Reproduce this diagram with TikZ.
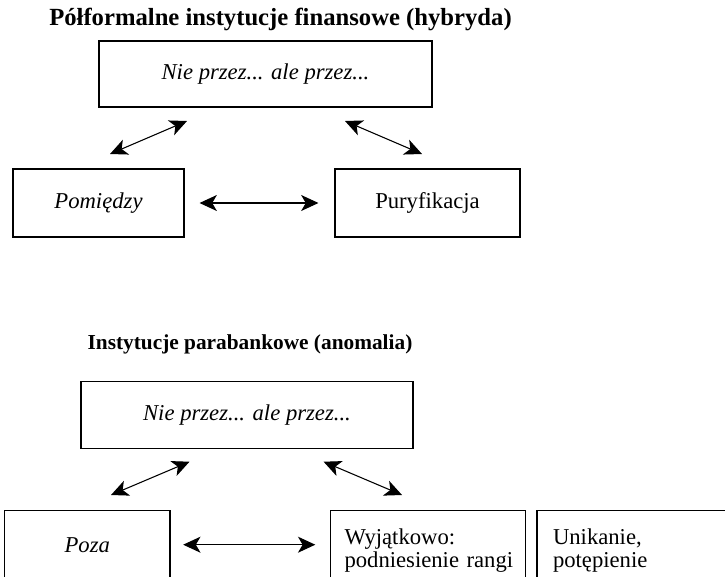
\documentclass[tikz,border=0pt]{standalone}
\usepackage{fontspec}
\setmainfont{Liberation Serif}
\usetikzlibrary{arrows.meta}

\tikzset{
  ramka/.style={draw, line width=0.8pt, inner sep=0pt, font=\fontsize{17}{17.5}\selectfont},
  ramkatxt/.style={ramka, align=left, minimum height=60pt},
  tytul/.style={inner sep=0.75pt, font=\bfseries},
  dwustronna/.style={{Stealth[length=13pt,width=12pt,inset=3.5pt]}-{Stealth[length=13pt,width=12pt,inset=3.5pt]}, line width=0.8pt},
}

\begin{document}
\begin{tikzpicture}[x=0.75pt,y=0.75pt,yscale=-1,xscale=1]

\useasboundingbox (0,0) rectangle (725,576);
\clip (0,0) rectangle (725,576);

% hybryda
\node (tytulA) at (280.5,19) [tytul, font=\fontsize{18.5}{22}\selectfont\bfseries] {Półformalne instytucje finansowe (hybryda)};
\node (nieA) at (265.5,74) [ramka, minimum width=249.75pt, minimum height=49.5pt] {\itshape Nie przez... ale przez...};
\node (pomiedzy) at (98.5,203) [ramka, minimum width=128.25pt, minimum height=51pt] {\itshape Pomiędzy};
\node (puryf) at (427.5,203) [ramka, minimum width=138.75pt, minimum height=51pt] {Puryfikacja};

\coordinate (lA1) at (110,154);
\coordinate (lA2) at (187,121);
\coordinate (pA1) at (345,121);
\coordinate (pA2) at (422,154);

\draw [dwustronna] (lA1) -- (lA2);
\draw [dwustronna] (pA1) -- (pA2);
\draw [dwustronna, shorten <=11.25pt, shorten >=12pt] (pomiedzy.east) -- (puryf.west);

% anomalia
\node (tytulB) at (250,344) [tytul, font=\fontsize{16}{19}\selectfont\bfseries] {Instytucje parabankowe (anomalia)};
\node (nieB) at (247,415) [ramka, minimum width=249pt, minimum height=50pt] {\itshape Nie przez... ale przez...};
\node (poza) at (87.3,544.7) [ramka, minimum width=124pt, minimum height=51pt] {\itshape Poza};
\node (wyjatkowo) at (428.1,550.7) [ramkatxt, inner xsep=10.5pt, text width=125.4pt] {Wyjątkowo:\\podniesienie~rangi};
\node (unikanie) at (637,550.7) [ramkatxt, inner xsep=12pt, text width=126pt] {Unikanie,\\potępienie};

\coordinate (lB1) at (111,495);
\coordinate (lB2) at (189.5,461.7);
\coordinate (pB1) at (323.6,461.7);
\coordinate (pB2) at (402,495);

\draw [dwustronna] (lB1) -- (lB2);
\draw [dwustronna] (pB1) -- (pB2);
\draw [dwustronna, shorten <=9.5pt, shorten >=11pt] (poza.east) -- (wyjatkowo.west |- poza.east);

\end{tikzpicture}
\end{document}
